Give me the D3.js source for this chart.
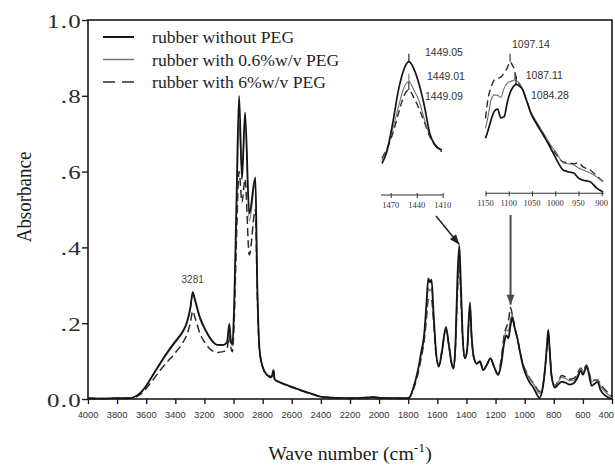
<!DOCTYPE html>
<html>
<head>
<meta charset="utf-8">
<script src="https://cdn.jsdelivr.net/npm/d3@7"></script>
<style>
  html, body { margin: 0; padding: 0; background: #fff; }
  svg { display: block; }
</style>
</head>
<body>
<svg id="chart" width="615" height="466"></svg>
<script>
// ---- FTIR spectra (wave number in cm-1, absorbance) ----
const waveNumbers = [
  4000, 3900, 3800, 3720, 3690, 3640, 3600, 3550, 3500, 3450,
  3400, 3350, 3320, 3295, 3281, 3265, 3230, 3190, 3150, 3110,
  3070, 3045, 3029, 3018, 3008, 2995, 2980, 2962, 2942, 2921,
  2892, 2850, 2838, 2825, 2815, 2800, 2780, 2740, 2725, 2718,
  2680, 2600, 2544, 2450, 2384, 2300, 2200, 2100, 2040, 2000,
  1900, 1800, 1790, 1760, 1730, 1710, 1690, 1675, 1662, 1650,
  1640, 1625, 1608, 1590, 1570, 1541, 1520, 1500, 1488, 1475,
  1462, 1449, 1438, 1425, 1410, 1395, 1376, 1365, 1350, 1330,
  1307, 1285, 1260, 1235, 1210, 1182, 1160, 1140, 1125, 1112,
  1097, 1085, 1070, 1050, 1030, 1010, 985, 960, 940, 920,
  900, 880, 860, 845, 838, 830, 815, 792, 770, 745,
  720, 690, 660, 635, 615, 600, 575, 560, 540, 520,
  500, 480, 450, 420, 400
];

const absNoPEG = [
  0.002, 0.001, 0.002, 0.002, 0.004, 0.016, 0.035, 0.066, 0.097, 0.126,
  0.152, 0.178, 0.203, 0.245, 0.282, 0.262, 0.214, 0.180, 0.155, 0.143,
  0.143, 0.150, 0.198, 0.152, 0.145, 0.260, 0.520, 0.800, 0.580, 0.756,
  0.490, 0.585, 0.320, 0.150, 0.110, 0.085, 0.068, 0.058, 0.076, 0.052,
  0.044, 0.032, 0.024, 0.012, 0.005, 0.003, 0.002, 0.003, 0.005, 0.003,
  0.002, 0.002, 0.005, 0.035, 0.082, 0.125, 0.172, 0.250, 0.318, 0.308,
  0.315, 0.220, 0.120, 0.085, 0.120, 0.190, 0.140, 0.090, 0.080, 0.150,
  0.320, 0.405, 0.300, 0.160, 0.107, 0.130, 0.255, 0.170, 0.111, 0.093,
  0.098, 0.076, 0.090, 0.107, 0.085, 0.063, 0.095, 0.150, 0.168, 0.160,
  0.195, 0.215, 0.190, 0.160, 0.120, 0.085, 0.058, 0.040, 0.030, 0.015,
  0.003, 0.020, 0.080, 0.150, 0.182, 0.140, 0.060, 0.030, 0.038, 0.046,
  0.043, 0.038, 0.043, 0.058, 0.075, 0.064, 0.085, 0.068, 0.035, 0.040,
  0.045, 0.025, 0.010, 0.003, 0.000
];

const abs06PEG = [
  0.002, 0.001, 0.002, 0.002, 0.004, 0.016, 0.035, 0.064, 0.094, 0.123,
  0.149, 0.175, 0.200, 0.240, 0.276, 0.258, 0.210, 0.178, 0.153, 0.142,
  0.143, 0.150, 0.185, 0.150, 0.140, 0.240, 0.480, 0.730, 0.600, 0.740,
  0.470, 0.570, 0.310, 0.148, 0.110, 0.085, 0.068, 0.058, 0.074, 0.052,
  0.044, 0.032, 0.024, 0.012, 0.005, 0.003, 0.002, 0.003, 0.004, 0.003,
  0.002, 0.002, 0.005, 0.035, 0.080, 0.120, 0.165, 0.232, 0.292, 0.285,
  0.292, 0.210, 0.120, 0.087, 0.122, 0.186, 0.138, 0.090, 0.082, 0.145,
  0.290, 0.372, 0.280, 0.155, 0.107, 0.130, 0.247, 0.166, 0.110, 0.094,
  0.100, 0.078, 0.090, 0.107, 0.085, 0.065, 0.100, 0.160, 0.182, 0.180,
  0.210, 0.222, 0.192, 0.162, 0.122, 0.090, 0.067, 0.050, 0.040, 0.026,
  0.015, 0.025, 0.080, 0.148, 0.178, 0.140, 0.062, 0.035, 0.045, 0.057,
  0.054, 0.048, 0.050, 0.065, 0.080, 0.070, 0.087, 0.075, 0.045, 0.050,
  0.052, 0.035, 0.020, 0.010, 0.005
];

const abs6PEG = [
  0.002, 0.001, 0.002, 0.002, 0.003, 0.012, 0.028, 0.052, 0.078, 0.100,
  0.122, 0.148, 0.170, 0.205, 0.232, 0.215, 0.172, 0.145, 0.128, 0.123,
  0.125, 0.132, 0.168, 0.135, 0.125, 0.210, 0.420, 0.600, 0.520, 0.580,
  0.380, 0.500, 0.290, 0.145, 0.108, 0.084, 0.067, 0.057, 0.073, 0.051,
  0.043, 0.031, 0.023, 0.011, 0.005, 0.003, 0.002, 0.004, 0.005, 0.003,
  0.002, 0.002, 0.004, 0.030, 0.072, 0.110, 0.155, 0.212, 0.262, 0.258,
  0.262, 0.200, 0.115, 0.090, 0.125, 0.182, 0.140, 0.092, 0.085, 0.140,
  0.275, 0.352, 0.265, 0.150, 0.107, 0.130, 0.242, 0.165, 0.110, 0.095,
  0.100, 0.080, 0.090, 0.107, 0.085, 0.066, 0.110, 0.170, 0.190, 0.205,
  0.241, 0.222, 0.190, 0.160, 0.120, 0.090, 0.070, 0.052, 0.042, 0.030,
  0.020, 0.028, 0.080, 0.148, 0.178, 0.140, 0.062, 0.035, 0.048, 0.062,
  0.058, 0.052, 0.055, 0.070, 0.082, 0.075, 0.090, 0.075, 0.045, 0.050,
  0.050, 0.040, 0.025, 0.015, 0.008
];

const seriesNames = ["rubber without PEG", "rubber with 0.6%w/v PEG", "rubber with 6%w/v PEG"];
const xTickValues = [4000, 3800, 3600, 3400, 3200, 3000, 2800, 2600, 2400, 2200, 2000, 1800, 1600, 1400, 1200, 1000, 800, 600, 400];
const yTickValues = [0, 0.2, 0.4, 0.6, 0.8, 1.0];
const yTickLabels = ["0.0", ".2", ".4", ".6", ".8", "1.0"];
const ohPeak = 3281;

// ---- CH2 bending band detail (1480-1410 cm-1) ----
const bendWaves = [1480, 1475, 1467, 1461, 1455, 1449.05, 1443, 1437, 1431, 1425, 1419, 1411];
const bendNoPEG = [0.099, 0.129, 0.230, 0.320, 0.380, 0.405, 0.382, 0.335, 0.270, 0.190, 0.154, 0.139];
const bend06PEG = [0.109, 0.136, 0.209, 0.270, 0.325, 0.345, 0.318, 0.285, 0.230, 0.185, 0.158, 0.134];
const bend6PEG  = [0.115, 0.139, 0.194, 0.250, 0.300, 0.320, 0.295, 0.262, 0.222, 0.180, 0.154, 0.134];
const bendPeaks = [1449.05, 1449.01, 1449.09];
const bendTicks = [1470, 1440, 1410];

// ---- C-O stretching band detail (1150-900 cm-1) ----
const coWaves = [1150, 1145, 1138, 1131, 1124, 1117, 1110, 1103, 1097.14, 1091, 1087.11, 1084.28, 1077, 1070,
                 1062, 1052, 1040, 1025, 1010, 997, 983, 970, 960, 950, 940, 925, 910, 897];
const coNoPEG = [0.109, 0.123, 0.145, 0.162, 0.166, 0.149, 0.151, 0.180, 0.198, 0.209, 0.213, 0.215, 0.211, 0.204,
                 0.184, 0.157, 0.137, 0.114, 0.090, 0.067, 0.047, 0.043, 0.041, 0.031, 0.027, 0.024, 0.011, 0.004];
const co06PEG = [0.129, 0.149, 0.184, 0.194, 0.193, 0.189, 0.207, 0.217, 0.220, 0.222, 0.223, 0.222, 0.217, 0.204,
                 0.184, 0.160, 0.141, 0.119, 0.096, 0.080, 0.061, 0.059, 0.057, 0.051, 0.047, 0.041, 0.033, 0.024];
const co6PEG  = [0.148, 0.184, 0.209, 0.223, 0.226, 0.229, 0.237, 0.247, 0.259, 0.250, 0.243, 0.227, 0.215, 0.204,
                 0.184, 0.159, 0.139, 0.117, 0.094, 0.076, 0.063, 0.061, 0.059, 0.061, 0.053, 0.047, 0.035, 0.024];
const coPeaks = [1084.28, 1087.11, 1097.14];
const coTicks = [1150, 1100, 1050, 1000, 950, 900];

// ---- drawing ----
const svg = d3.select("#chart");
const SERIF = "'Liberation Serif','Times New Roman',serif";
const SANS = "'Liberation Sans',Arial,sans-serif";
const W = 615;

const styles = [
  { stroke: "#151515", width: 1.8, dash: null },
  { stroke: "#707070", width: 1.2, dash: null },
  { stroke: "#2a2a2a", width: 1.5, dash: "8,4" }
];

function label(parent, x, y, str, o) {
  const g = parent.append("g").attr("transform", `translate(${x},${y}) scale(${o.sx || 1},1)`);
  const t = g.append("text")
    .attr("text-anchor", o.anchor || "start")
    .attr("font-family", o.family)
    .attr("font-size", o.size)
    .attr("fill", o.fill || "#222")
    .text(str);
  if (o.ls) t.attr("letter-spacing", o.ls);
  return t;
}

const plot = { left: 88, right: 612, top: 20, bottom: 399 };
const x = d3.scaleLinear().domain([4000, 400]).range([plot.left, plot.right]);
const y = d3.scaleLinear().domain([0, 1]).range([plot.bottom, plot.top]);

// spectra
const mainSeries = [absNoPEG, abs06PEG, abs6PEG];
const mainLine = d3.line().curve(d3.curveMonotoneX);
[2, 1, 0].forEach(i => {
  const pts = waveNumbers.map((w, k) => [x(w), y(mainSeries[i][k])]);
  svg.append("path")
    .attr("d", mainLine(pts))
    .attr("fill", "none")
    .attr("stroke", styles[i].stroke)
    .attr("stroke-width", styles[i].width)
    .attr("stroke-dasharray", styles[i].dash)
    .attr("stroke-linejoin", "round");
});

// frame
svg.append("rect")
  .attr("x", plot.left).attr("y", plot.top)
  .attr("width", plot.right - plot.left).attr("height", plot.bottom - plot.top)
  .attr("fill", "none").attr("stroke", "#1a1a1a").attr("stroke-width", 1.6);

// x axis
const xAxis = svg.append("g").attr("transform", `translate(0,${plot.bottom})`)
  .call(d3.axisBottom(x).tickValues(xTickValues).tickSize(5).tickFormat(""));
xAxis.select(".domain").remove();
xAxis.selectAll(".tick line").attr("stroke", "#1a1a1a").attr("stroke-width", 1.4);
xTickValues.forEach(v => {
  const t = label(svg, x(v), 418, String(v), { family: SANS, size: 9.3, anchor: "middle", fill: "#333" });
  // keep the last label inside the page edge
  const bb = t.node().getBBox();
  if (x(v) + bb.width / 2 > W - 1) {
    t.attr("text-anchor", "end").attr("x", W - 1 - x(v));
  }
});

// y axis
const yAxis = svg.append("g").attr("transform", `translate(${plot.left},0)`)
  .call(d3.axisLeft(y).tickValues(yTickValues).tickSize(6).tickFormat(""));
yAxis.select(".domain").remove();
yAxis.selectAll(".tick line").attr("stroke", "#1a1a1a").attr("stroke-width", 1.4);
yTickValues.forEach((v, i) => {
  label(svg, 82, y(v) + 7.5, yTickLabels[i], { family: SERIF, size: 19.5, anchor: "end", fill: "#2a2a2a", sx: 1.28, ls: 1 });
});

// axis titles
const xt = label(svg, 350, 460, "", { family: SERIF, size: 18, anchor: "middle", fill: "#1a1a1a", sx: 1.1 });
xt.append("tspan").text("Wave number (cm");
xt.append("tspan").attr("font-size", 12.5).attr("dy", -8).text("-1");
xt.append("tspan").attr("dy", 8).text(")");

svg.append("g").attr("transform", "translate(31,197) scale(1.12,1) rotate(-90)")
  .append("text").attr("text-anchor", "middle")
  .attr("font-family", SERIF).attr("font-size", 19).attr("fill", "#1a1a1a")
  .text("Absorbance");

// O-H band label
label(svg, x(ohPeak), y(absNoPEG[waveNumbers.indexOf(ohPeak)]) - 9, String(ohPeak),
  { family: SANS, size: 10, anchor: "middle", fill: "#444" });

// legend
seriesNames.forEach((name, i) => {
  const base = 43 + i * 22.5;
  svg.append("line")
    .attr("x1", 103).attr("x2", 134).attr("y1", base - 6).attr("y2", base - 6)
    .attr("stroke", styles[i].stroke).attr("stroke-width", styles[i].width + 0.2)
    .attr("stroke-dasharray", i === 2 ? "12,7" : null);
  label(svg, 152, base, name, { family: SERIF, size: 16.5, fill: "#1e1e1e", sx: 1.07 });
});

// ---- detail panels ----
function detailPanel(cfg) {
  const xs = d3.scaleLinear().domain(cfg.xDomain).range(cfg.xRange);
  const ys = d3.scaleLinear().domain(cfg.yDomain).range(cfg.yRange);
  const line = d3.line().curve(d3.curveMonotoneX);
  [2, 1, 0].forEach(i => {
    const pts = cfg.waves.map((w, k) => [xs(w), ys(cfg.series[i][k])]);
    svg.append("path").attr("d", line(pts))
      .attr("fill", "none").attr("stroke", styles[i].stroke)
      .attr("stroke-width", styles[i].width - 0.1)
      .attr("stroke-dasharray", i === 2 ? "7,4" : null)
      .attr("stroke-linejoin", "round");
  });
  // peak markers and position labels
  cfg.peaks.forEach((p, i) => {
    const k = cfg.waves.findIndex(w => Math.abs(w - p) < 0.1);
    const py = ys(cfg.series[i][k]);
    svg.append("line").attr("x1", xs(p)).attr("x2", xs(p))
      .attr("y1", py - 8).attr("y2", py)
      .attr("stroke", styles[i].stroke).attr("stroke-width", 1.1);
    const lp = cfg.labelPos[i];
    label(svg, lp[0], lp[1], p.toFixed(2), { family: SANS, size: 10.5, fill: "#333" });
  });
  // axis
  const ax = svg.append("g").attr("transform", `translate(0,${cfg.axisY})`)
    .call(d3.axisBottom(xs).tickValues(cfg.ticks).tickSize(3).tickFormat(""));
  ax.select(".domain").attr("d", `M${cfg.axisExtent[0]},0H${cfg.axisExtent[1]}`)
    .attr("stroke", "#333").attr("stroke-width", 1.1);
  ax.selectAll(".tick line").attr("stroke", "#333").attr("y1", -2);
  cfg.ticks.forEach(t => {
    label(svg, xs(t), cfg.axisY + 13, String(t), { family: SERIF, size: 8.5, anchor: "middle", fill: "#333" });
  });
  return xs;
}

detailPanel({
  waves: bendWaves, series: [bendNoPEG, bend06PEG, bend6PEG],
  xDomain: [1470, 1410], xRange: [390.7, 442.7],
  yDomain: [0.10, 0.405], yRange: [163, 61.7],
  peaks: bendPeaks, ticks: bendTicks,
  labelPos: [[425, 56], [427, 80], [425, 100]],
  axisY: 195, axisExtent: [381, 443]
});

detailPanel({
  waves: coWaves, series: [coNoPEG, co06PEG, co6PEG],
  xDomain: [1150, 900], xRange: [485.5, 601.7],
  yDomain: [0, 0.3], yRange: [194, 40.7],
  peaks: coPeaks, ticks: coTicks,
  labelPos: [[531, 99], [525.7, 79], [512, 47.7]],
  axisY: 193.3, axisExtent: [485.5, 604]
});

// arrows from the detail panels down to their bands
function arrow(x1, y1, x2, y2, color, w) {
  svg.append("line").attr("x1", x1).attr("y1", y1).attr("x2", x2).attr("y2", y2)
    .attr("stroke", color).attr("stroke-width", w);
  const a = Math.atan2(y2 - y1, x2 - x1), L = 10, H = 4;
  const bx = x2 - L * Math.cos(a), by = y2 - L * Math.sin(a);
  const nx = -Math.sin(a) * H, ny = Math.cos(a) * H;
  svg.append("path")
    .attr("d", `M${x2},${y2}L${bx + nx},${by + ny}L${bx - nx},${by - ny}Z`)
    .attr("fill", color);
}
const bendIdx = waveNumbers.indexOf(1449);
arrow(436, 216, x(1449), y(absNoPEG[bendIdx]) - 1, "#1f1f1f", 1.5);
const coIdx = waveNumbers.indexOf(1097);
arrow(x(1097), 215, x(1097), y(abs6PEG[coIdx]) - 3, "#4a4a4a", 2);
</script>
</body>
</html>
